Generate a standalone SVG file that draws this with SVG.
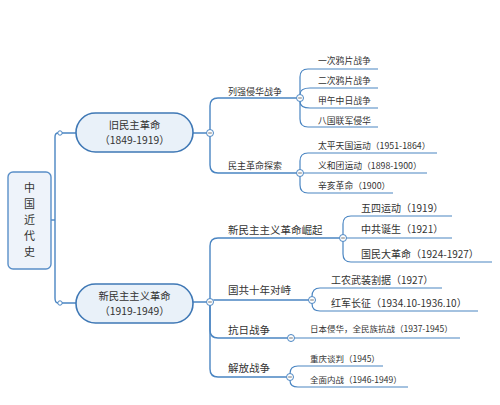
<svg xmlns="http://www.w3.org/2000/svg" width="500" height="405" viewBox="0 0 500 405">
<style>
text{font-family:"Noto Sans CJK SC","Noto Sans",sans-serif;fill:#333}
.ln{fill:none;stroke:#4a85c2;stroke-width:1.4}
.ul{fill:none;stroke:#4a85c2;stroke-width:1.2}
.pill{fill:#e9f1f9;stroke:#3f78b5;stroke-width:1.6}
.root{fill:#eef3fa;stroke:#5a8fc8;stroke-width:1.4}
.cc{fill:#fff;stroke:#4a85c2;stroke-width:1}
.mn{stroke:#666;stroke-width:0.9}
.t1{font-size:10.3px}
.t2a{font-size:9px}
.t2b{font-size:10.5px}
.t3a{font-size:8.8px}
.t3b{font-size:10px}
.t3c{font-size:8.5px}
</style>
<defs>
<g id="col"><circle class="cc" r="3.5"/><line class="mn" x1="-1.8" y1="0" x2="1.8" y2="0"/></g>
</defs>
<rect width="500" height="405" fill="#fff"/>
<g id="connectors">
<path class="ln" d="M51,220 H55"/>
<path class="ln" d="M58,133 Q55,133 55,137 V298 Q55,303 58,303"/>
<path class="ln" d="M62,133 H76 M62,303 H76"/>
<path class="ln" d="M193,133 H206.5 M193,302 H206.5"/>
<path class="ln" d="M210,129.5 V106 Q210,98 218,98 H296.5"/>
<path class="ln" d="M210,136.5 V165 Q210,173 218,173 H296.5"/>
<path class="ul" d="M300,94.5 V77 Q300,69 308,69 H378"/>
<path class="ul" d="M300,94.5 Q300,88 310,88 H378"/>
<path class="ul" d="M300,101.5 Q300,108 310,108 H378"/>
<path class="ul" d="M300,101.5 V119 Q300,127 308,127 H378"/>
<path class="ul" d="M300,169.5 V161 Q300,153 308,153 H437"/>
<path class="ul" d="M303.5,173 H427"/>
<path class="ul" d="M300,176.5 V185 Q300,193 308,193 H393"/>
<path class="ln" d="M210,298.5 V246 Q210,238 218,238 H339.5"/>
<path class="ln" d="M213.3,300 H308.5"/>
<path class="ln" d="M210,305.5 V330 Q210,338 218,338 H287.5"/>
<path class="ln" d="M210,305.5 V369 Q210,377 218,377 H286.5"/>
<path class="ul" d="M343,234.5 V224 Q343,216 351,216 H452"/>
<path class="ul" d="M346.5,238 H452"/>
<path class="ul" d="M343,241.5 V254 Q343,262 351,262 H492"/>
<path class="ul" d="M312,296.5 Q312,288 320,288 H442"/>
<path class="ul" d="M312,303.5 Q312,311 320,311 H478"/>
<path class="ul" d="M294.5,338 H460"/>
<path class="ul" d="M290,373.5 Q290,366 298,366 H383"/>
<path class="ul" d="M290,380.5 Q290,387 298,387 H408"/>
<circle class="cc" cx="60" cy="133" r="2.2"/>
<circle class="cc" cx="60" cy="303" r="2.2"/>
<use href="#col" x="210" y="133"/>
<use href="#col" x="300" y="98"/>
<use href="#col" x="300" y="173"/>
<use href="#col" x="210" y="302"/>
<use href="#col" x="343" y="238"/>
<use href="#col" x="312" y="300"/>
<use href="#col" x="291" y="338"/>
<use href="#col" x="290" y="377"/>
</g>
<g id="root">
<rect class="root" x="8" y="172" width="43" height="97" rx="5"/>
<text x="29.5" font-size="11" text-anchor="middle"><tspan x="29.5" y="192">中</tspan><tspan x="29.5" y="208">国</tspan><tspan x="29.5" y="224">近</tspan><tspan x="29.5" y="240">代</tspan><tspan x="29.5" y="256">史</tspan></text>
</g>
<g id="old">
<rect class="pill" x="76" y="113" width="117" height="39" rx="19.5"/>
<text class="t1" x="134.5" y="128.7" text-anchor="middle">旧民主革命</text>
<text class="t1" x="134.5" y="143.7" text-anchor="middle">（1849-1919）</text>
</g>
<g id="lieqiang"><text class="t2a" x="228" y="94.5">列强侵华战争</text></g>
<g id="minzhu"><text class="t2a" x="228" y="168.5">民主革命探索</text></g>
<g id="o1"><text class="t3a" x="318" y="63.5">一次鸦片战争</text></g>
<g id="o2"><text class="t3a" x="318" y="83.5">二次鸦片战争</text></g>
<g id="o3"><text class="t3a" x="318" y="103.5">甲午中日战争</text></g>
<g id="o4"><text class="t3a" x="318" y="123.5">八国联军侵华</text></g>
<g id="o5"><text class="t3a" x="318" y="148.5">太平天国运动（1951-1864）</text></g>
<g id="o6"><text class="t3a" x="318" y="168.5">义和团运动（1898-1900）</text></g>
<g id="o7"><text class="t3a" x="318" y="188.5">辛亥革命（1900）</text></g>
<g id="new">
<rect class="pill" x="76" y="284" width="117" height="39" rx="19.5"/>
<text class="t1" x="134.5" y="299.7" text-anchor="middle">新民主主义革命</text>
<text class="t1" x="134.5" y="314.7" text-anchor="middle">（1919-1949）</text>
</g>
<g id="jueqi"><text class="t2b" x="228" y="234">新民主主义革命崛起</text></g>
<g id="guogong"><text class="t2b" x="228" y="294">国共十年对峙</text></g>
<g id="kangri"><text class="t2b" x="228" y="334">抗日战争</text></g>
<g id="jiefang"><text class="t2b" x="228" y="372">解放战争</text></g>
<g id="n1"><text class="t3b" x="361" y="211.8">五四运动（1919）</text></g>
<g id="n2"><text class="t3b" x="361" y="232.8">中共诞生（1921）</text></g>
<g id="n3"><text class="t3b" x="361" y="257.8">国民大革命（1924-1927）</text></g>
<g id="n4"><text class="t3b" x="331" y="283.8">工农武装割据（1927）</text></g>
<g id="n5"><text class="t3b" x="331" y="306.8">红军长征（1934.10-1936.10）</text></g>
<g id="n6"><text class="t3c" x="310" y="332.3">日本侵华，全民族抗战（1937-1945）</text></g>
<g id="n7"><text class="t3c" x="310" y="362.3">重庆谈判（1945）</text></g>
<g id="n8"><text class="t3c" x="310" y="383.3">全面内战（1946-1949）</text></g>
</svg>
